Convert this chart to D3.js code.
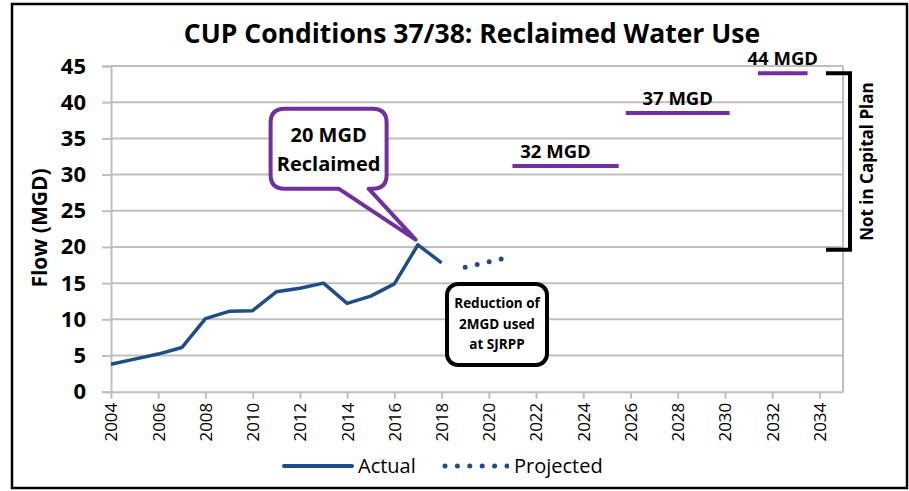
<!DOCTYPE html>
<html>
<head>
<meta charset="utf-8">
<script src="https://cdn.jsdelivr.net/npm/d3@7"></script>
<style>
  body { margin: 0; background: #fff; }
  svg { display: block; font-family: 'Open Sans', sans-serif; }
</style>
</head>
<body>
<div id="chart"></div>
<script>
// actual flows (MGD)
const actualYears = [2004, 2005, 2006, 2007, 2008, 2009, 2010, 2011, 2012, 2013, 2014, 2015, 2016, 2017, 2018]
const actualFlow = [3.8, 4.5, 5.2, 6.1, 10.1, 11.1, 11.2, 13.8, 14.3, 15.0, 12.2, 13.2, 14.9, 20.3, 17.8]
// projected flows
const projYears = [2019, 2020.6]
const projFlow = [17.2, 18.4]
// CUP condition targets
const targetStart = [2021, 2025.8, 2031.4]
const targetEnd = [2025.5, 2030.2, 2033.5]
const targetFlow = [31.2, 38.5, 44.0]
const targetLabels = ['32 MGD', '37 MGD', '44 MGD']
const yTicks = [0, 5, 10, 15, 20, 25, 30, 35, 40, 45]
const xTicks = d3.range(2004, 2035, 2)

const W = 909
const H = 491
const blue = '#1F4E86'
const purple = '#7030A0'
const grid = '#BFBFBF'

const svg = d3.select('#chart').append('svg').attr('width', W).attr('height', H)

// outer frame
svg.append('rect')
  .attr('x', 12).attr('y', 4).attr('width', 895).attr('height', 484)
  .attr('fill', '#fff').attr('stroke', '#000').attr('stroke-width', 2.5)

const x = d3.scaleLinear().domain([2004, 2035]).range([111, 843])
const y = d3.scaleLinear().domain([0, 45]).range([391.7, 66])

// title
svg.append('text')
  .attr('x', 472).attr('y', 43)
  .attr('text-anchor', 'middle')
  .attr('font-size', 26.5).attr('font-weight', 700)
  .text('CUP Conditions 37/38: Reclaimed Water Use')

// grid lines
svg.append('g').selectAll('line')
  .data(yTicks.filter(d => d > 0))
  .join('line')
  .attr('x1', x(2004)).attr('x2', x(2035))
  .attr('y1', d => y(d)).attr('y2', d => y(d))
  .attr('stroke', grid).attr('stroke-width', 2)

// right edge of plot area
svg.append('line')
  .attr('x1', x(2035)).attr('x2', x(2035))
  .attr('y1', y(45)).attr('y2', y(0))
  .attr('stroke', grid).attr('stroke-width', 2)

// y axis
const yAxis = svg.append('g')
  .attr('transform', `translate(${x(2004)},0)`)
  .call(d3.axisLeft(y).tickValues(yTicks).tickSize(9).tickPadding(16))
yAxis.select('.domain').attr('stroke', grid).attr('stroke-width', 2)
yAxis.selectAll('.tick line').attr('stroke', grid).attr('stroke-width', 2)
yAxis.selectAll('.tick text')
  .attr('font-family', 'Open Sans').attr('font-size', 22).attr('font-weight', 700).attr('fill', '#000')

// x axis
const xAxis = svg.append('g')
  .attr('transform', `translate(0,${y(0)})`)
  .call(d3.axisBottom(x).tickValues(xTicks).tickFormat(d3.format('d')).tickSize(7).tickSizeOuter(0))
xAxis.select('.domain').attr('stroke', grid).attr('stroke-width', 2)
xAxis.selectAll('.tick line').attr('stroke', grid).attr('stroke-width', 2)
xAxis.selectAll('.tick text')
  .attr('font-family', 'Open Sans').attr('font-size', 17).attr('fill', '#000')
  .attr('transform', 'rotate(-90)')
  .attr('text-anchor', 'end')
  .attr('x', -11).attr('y', 0).attr('dy', '0.35em')

// y axis title
svg.append('text')
  .attr('transform', 'translate(47,228) rotate(-90)')
  .attr('text-anchor', 'middle')
  .attr('font-size', 21).attr('font-weight', 700)
  .text('Flow (MGD)')

// actual line
const actual = actualYears.map((d, i) => ({ year: d, flow: actualFlow[i] }))
const projected = projYears.map((d, i) => ({ year: d, flow: projFlow[i] }))
const line = d3.line().x(d => x(d.year)).y(d => y(d.flow))

svg.append('path')
  .datum(actual)
  .attr('fill', 'none').attr('stroke', blue).attr('stroke-width', 3.5)
  .attr('stroke-linejoin', 'round')
  .attr('d', line)

svg.append('path')
  .datum(projected)
  .attr('fill', 'none').attr('stroke', blue).attr('stroke-width', 5)
  .attr('stroke-linecap', 'round').attr('stroke-dasharray', '0 12.3')
  .attr('d', line)

// target segments
targetFlow.forEach((v, i) => {
  svg.append('line')
    .attr('x1', x(targetStart[i])).attr('x2', x(targetEnd[i]))
    .attr('y1', y(v)).attr('y2', y(v))
    .attr('stroke', purple).attr('stroke-width', 4)
  svg.append('text')
    .attr('x', (x(targetStart[i]) + x(targetEnd[i])) / 2 + (i === 0 ? -10 : 0))
    .attr('y', y(v) - 8)
    .attr('text-anchor', 'middle')
    .attr('font-size', 18.5).attr('font-weight', 700)
    .text(targetLabels[i])
})

// bracket: not in capital plan
const bx = 850
svg.append('path')
  .attr('d', `M${bx - 24},${y(44)}H${bx}V${y(19.6)}H${bx - 24}`)
  .attr('fill', 'none').attr('stroke', '#000').attr('stroke-width', 4)
svg.append('text')
  .attr('transform', `translate(873,${(y(44) + y(19.6)) / 2}) rotate(-90)`)
  .attr('text-anchor', 'middle')
  .attr('font-size', 17).attr('font-weight', 700)
  .text('Not in Capital Plan')

// purple callout pointing to the 2017 peak
const tipX = x(2016.9)
const tipY = y(21)
const bx0 = tipX - 145, bx1 = tipX - 29, by0 = tipY - 131, by1 = tipY - 51, r = 14
svg.append('path')
  .attr('d', `M${bx0 + r},${by0}H${bx1 - r}Q${bx1},${by0} ${bx1},${by0 + r}V${by1 - r}` +
    `Q${bx1},${by1} ${bx1 - r},${by1}H${tipX - 47}L${tipX},${tipY}L${tipX - 77},${by1}` +
    `H${bx0 + r}Q${bx0},${by1} ${bx0},${by1 - r}V${by0 + r}Q${bx0},${by0} ${bx0 + r},${by0}Z`)
  .attr('fill', '#fff').attr('stroke', purple).attr('stroke-width', 4).attr('stroke-linejoin', 'round')
svg.append('text')
  .attr('x', (bx0 + bx1) / 2).attr('y', by0 + 33)
  .attr('text-anchor', 'middle').attr('font-size', 20).attr('font-weight', 700)
  .text('20 MGD')
svg.append('text')
  .attr('x', (bx0 + bx1) / 2).attr('y', by0 + 62)
  .attr('text-anchor', 'middle').attr('font-size', 20).attr('font-weight', 700)
  .text('Reclaimed')

// black note box
const nb = { x: 447, y: 284, w: 100, h: 81 }
svg.append('rect')
  .attr('x', nb.x).attr('y', nb.y).attr('width', nb.w).attr('height', nb.h)
  .attr('rx', 11).attr('fill', '#fff').attr('stroke', '#000').attr('stroke-width', 4)
;['Reduction of', '2MGD used', 'at SJRPP'].forEach((t, i) => {
  svg.append('text')
    .attr('x', nb.x + nb.w / 2).attr('y', nb.y + 24 + i * 20.5)
    .attr('text-anchor', 'middle').attr('font-size', 13.5).attr('font-weight', 700)
    .text(t)
})

// legend
const ly = 466
svg.append('line')
  .attr('x1', 284).attr('x2', 352).attr('y1', ly).attr('y2', ly)
  .attr('stroke', blue).attr('stroke-width', 4).attr('stroke-linecap', 'round')
svg.append('text')
  .attr('x', 358).attr('y', ly + 7).attr('font-size', 20).text('Actual')
svg.append('line')
  .attr('x1', 445).attr('x2', 507).attr('y1', ly).attr('y2', ly)
  .attr('stroke', blue).attr('stroke-width', 5)
  .attr('stroke-linecap', 'round').attr('stroke-dasharray', '0 12.4')
svg.append('text')
  .attr('x', 514).attr('y', ly + 7).attr('font-size', 20).text('Projected')
</script>
</body>
</html>
